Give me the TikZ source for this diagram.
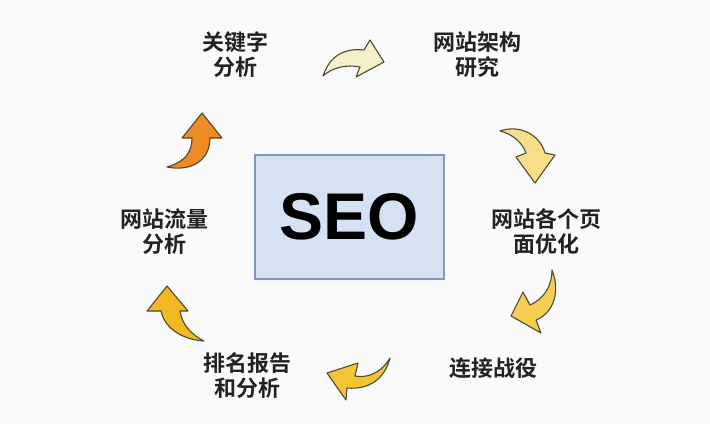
\documentclass[tikz,border=0pt]{standalone}
\usepackage{fontspec}
\newfontfamily\cjk{Noto Sans CJK SC}[BoldFont={Noto Sans CJK SC Bold}]
\newfontfamily\seofont{Liberation Sans}
\definecolor{bgc}{HTML}{FAFAFA}
\definecolor{boxfill}{HTML}{D5E2F3}
\definecolor{boxline}{HTML}{7F97BC}
\definecolor{outl}{HTML}{4A4838}
\definecolor{txt}{HTML}{222222}
\definecolor{aA}{HTML}{F6F0C8}
\definecolor{aB}{HTML}{F8DE88}
\definecolor{aC}{HTML}{F5CE52}
\definecolor{aD}{HTML}{F3C433}
\definecolor{aE}{HTML}{F1B822}
\definecolor{aF}{HTML}{F08A25}
\tikzset{
  lbl/.style={font=\cjk\bfseries\fontsize{22}{25}\selectfont, text=txt, align=center, inner sep=0pt},
  blockarrow/.style={draw=outl, line width=1.1pt, line join=round},
}
\begin{document}
\begin{tikzpicture}[x=1pt,y=-1pt]
\useasboundingbox (0,0) rectangle (710,424);
\fill[bgc] (0,0) rectangle (710,424);
% centre box
\node[draw=boxline, fill=boxfill, line width=1.2pt, minimum width=189pt, minimum height=124pt, inner sep=0pt,
      font=\seofont\bfseries\fontsize{66}{66}\selectfont] (seo) at (349.5,217) {SEO};
% labels
\node[lbl] (kw)   at (235,55)  {关键字\\分析};
\node[lbl] (arch) at (477,55)  {网站架构\\研究};
\node[lbl] (page) at (546,232) {网站各个页\\面优化};
\node[lbl] (link) at (493,368) {连接战役};
\node[lbl] (rank) at (247,376) {排名报告\\和分析};
\node[lbl] (flow) at (164,232) {网站流量\\分析};
% block arrows
\draw[blockarrow, fill=aA] (323,76) .. controls (330,55) and (345,48) .. (364,50) -- (370,40) -- (384,62) -- (356,77) -- (360,67) .. controls (345,64) and (332,68) .. (323,76) -- cycle;
\draw[blockarrow, fill=aB] (500,131) .. controls (520,124) and (540,135) .. (545,153) -- (555,155) -- (535,183) -- (516,157) -- (526,153) .. controls (522,142) and (512,134) .. (500,131) -- cycle;
\draw[blockarrow, fill=aC] (552,270) .. controls (560,290) and (555,312) .. (536,320) -- (541,333) -- (511,316) -- (523,292) -- (530,305) .. controls (545,298) and (552,285) .. (552,270) -- cycle;
\draw[blockarrow, fill=aD] (390,358) .. controls (380,375) and (365,378) .. (355,376) -- (358,363) -- (327,373) -- (346,400) -- (347,388) .. controls (370,390) and (385,378) .. (390,358) -- cycle;
\draw[blockarrow, fill=aE] (204,341) .. controls (185,340) and (165,330) .. (161,311) -- (147,311) -- (167,286) -- (188,311) -- (180,311) .. controls (182,325) and (192,335) .. (204,341) -- cycle;
\draw[blockarrow, fill=aF] (167,167) .. controls (185,162) and (192,152) .. (192,138) -- (182,138) -- (202,113) -- (222,138) -- (210,138) .. controls (210,160) and (192,172) .. (167,167) -- cycle;
\end{tikzpicture}
\end{document}
